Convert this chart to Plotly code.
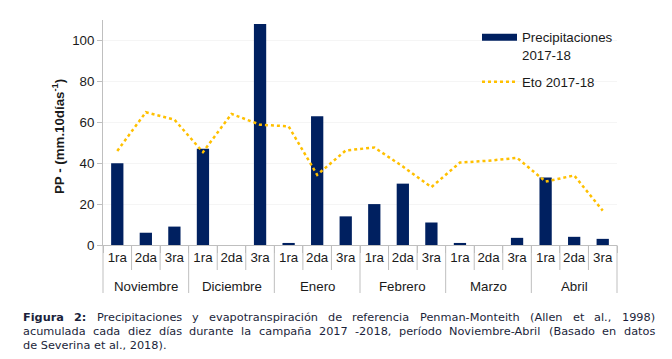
import plotly.graph_objects as go

# ---------------- data ----------------
months = ["Noviembre", "Diciembre", "Enero", "Febrero", "Marzo", "Abril"]
decades = ["1ra", "2da", "3ra"]
precip = [40, 6, 9, 47, 0, 108, 1, 63, 14, 20, 30, 11, 1, 0, 3.5, 33, 4, 3]
eto = [46, 64.9, 61.3, 45.4, 64.1, 58.8, 58, 34.3, 46.2, 47.7, 38.4, 28.3,
       40.3, 41.2, 42.6, 31, 34, 16.8]
y_ticks = [0, 20, 40, 60, 80, 100]
series_names = ["Precipitaciones<br>2017-18", "Eto 2017-18"]
y_title = "<b>PP - (mm.10días<sup>-1</sup>)</b>"

caption_lines = [
    ["<b>Figura</b>", "<b>2:</b>", "Precipitaciones", "y", "evapotranspiración", "de",
     "referencia", "Penman-Monteith", "(Allen", "et", "al.,", "1998)"],
    ["acumulada", "cada", "diez", "días", "durante", "la", "campaña", "2017", "-2018,",
     "período", "Noviembre-Abril", "(Basado", "en", "datos"],
    ["de", "Severina", "et", "al.,", "2018)."],
]

# unique category keys (month + ten-day period); shown with decade labels
x_keys = [f"{m} {d}" for m in months for d in decades]
x_ticktext = [d for _ in months for d in decades]

# ---------------- layout geometry (px) ----------------
W, H = 672, 359
L, R, T, B = 103, 55, 20, 114
PW, PH = W - L - R, H - T - B


def px_x(px):
    return (px - L) / PW


def px_y(py):
    return (H - B - py) / PH


NAVY = "#002060"
GOLD = "#FFC000"
AXIS = "#bfbfbf"
FONT = "Liberation Sans, Arial, sans-serif"
TXT = "#1a1a1a"

fig = go.Figure()
fig.add_trace(go.Bar(
    x=x_keys, y=precip, name=series_names[0],
    marker=dict(color=NAVY, line=dict(width=0)),
    showlegend=False,
))
# legend proxy for the bar series (wide flat swatch)
fig.add_trace(go.Scatter(
    x=[None], y=[None], mode="lines", name=series_names[0],
    line=dict(color=NAVY, width=7), legendgroup="a",
))
fig.add_trace(go.Scatter(
    x=x_keys, y=eto, mode="lines", name=series_names[1],
    line=dict(color=GOLD, width=2.5, dash="dot"), legendgroup="b",
))

# ---------------- category separators / month dividers ----------------
n = len(x_keys)
k = len(decades)
shapes = []
for i in range(0, n + 1):
    depth = 48 if i % k == 0 else 25
    shapes.append(dict(type="line", xref="paper", yref="paper",
                       x0=i / n, x1=i / n, y0=0, y1=-depth / PH,
                       line=dict(color=AXIS, width=1)))

annotations = []
for j, m in enumerate(months):
    annotations.append(dict(
        text=m, x=(j * k + k / 2) / n, y=px_y(286), xref="paper", yref="paper",
        xanchor="center", yanchor="middle", showarrow=False,
        font=dict(family=FONT, size=13.3, color=TXT)))

# ---------------- caption (justified) ----------------
REG = {' ': .318, '(': .390, ')': .390, ',': .318, '-': .361, '.': .318, ':': .337,
       'A': .684, 'B': .686, 'M': .863, 'N': .748, 'P': .603, 'S': .635, 'F': .575,
       'a': .613, 'b': .635, 'c': .550, 'd': .635, 'e': .615, 'g': .635, 'h': .634,
       'i': .278, 'í': .278, 'l': .278, 'm': .974, 'n': .634, 'ñ': .634, 'o': .612,
       'p': .635, 'r': .411, 's': .521, 't': .392, 'u': .634, 'v': .592, 'y': .592,
       'z': .525, 'f': .352}
BOLD = {'F': .683, 'i': .343, 'g': .716, 'u': .712, 'r': .493, 'a': .675, '2': .696,
        ':': .400}
CAP_SIZE = 11.3
CAP_COLOR = "#1b1f3b"
CAP_FONT = "DejaVu Sans, Verdana, sans-serif"


def word_width(w):
    bold = w.startswith("<b>")
    s = w.replace("<b>", "").replace("</b>", "")
    tot = 0
    for ch in s:
        if ch.isdigit() and not bold:
            tot += .636
        else:
            tot += (BOLD if bold else REG).get(ch, .6)
    return tot * CAP_SIZE


cap_left, cap_right = 21, 653
line_y = [317, 331, 345]
for li, words in enumerate(caption_lines):
    if li < len(caption_lines) - 1:
        widths = [word_width(w) for w in words]
        gap = (cap_right - cap_left - sum(widths)) / (len(words) - 1)
        xpos = cap_left
        for w, ww in zip(words, widths):
            annotations.append(dict(
                text=w, x=px_x(xpos), y=px_y(line_y[li]), xref="paper", yref="paper",
                xanchor="left", yanchor="middle", showarrow=False,
                font=dict(family=CAP_FONT, size=CAP_SIZE, color=CAP_COLOR)))
            xpos += ww + gap
    else:
        annotations.append(dict(
            text=" ".join(words), x=px_x(cap_left), y=px_y(line_y[li]),
            xref="paper", yref="paper", xanchor="left", yanchor="middle",
            showarrow=False,
            font=dict(family=CAP_FONT, size=CAP_SIZE, color=CAP_COLOR)))

annotations.append(dict(
    text=y_title, x=px_x(58), y=px_y(137), xref="paper", yref="paper",
    textangle=-90, xanchor="center", yanchor="middle", showarrow=False,
    font=dict(family=FONT, size=13.3, color=TXT)))

fig.update_layout(
    width=W, height=H,
    margin=dict(l=L, r=R, t=T, b=B, autoexpand=False),
    paper_bgcolor="white", plot_bgcolor="white",
    bargap=0.57,
    font=dict(family=FONT, size=13.3, color=TXT),
    legend=dict(x=px_x(477), y=px_y(22), xanchor="left", yanchor="top",
                bgcolor="rgba(0,0,0,0)", font=dict(family=FONT, size=13.3, color=TXT),
                valign="top", tracegroupgap=7, itemwidth=35),
    shapes=shapes,
    annotations=annotations,
    xaxis=dict(type="category", tickvals=x_keys, ticktext=x_ticktext,
               showline=True, linecolor=AXIS, linewidth=1,
               ticks="outside", ticklen=7, tickcolor=AXIS, tickson="boundaries",
               tickangle=0,
               tickfont=dict(family=FONT, size=13.3, color=TXT),
               showgrid=False, automargin=False),
    yaxis=dict(range=[0, 110], tickvals=y_ticks, showline=True, linecolor=AXIS,
               linewidth=1, ticks="outside", ticklen=5, tickcolor=AXIS,
               showgrid=True, gridcolor="#f5f5f5", zeroline=False,
               tickfont=dict(family=FONT, size=13.3, color=TXT),
               automargin=False),
)

fig.write_html(
    "out.html",
    config={"displayModeBar": False},
    post_script="document.body.style.margin='0';document.body.style.overflow='hidden';",
)
